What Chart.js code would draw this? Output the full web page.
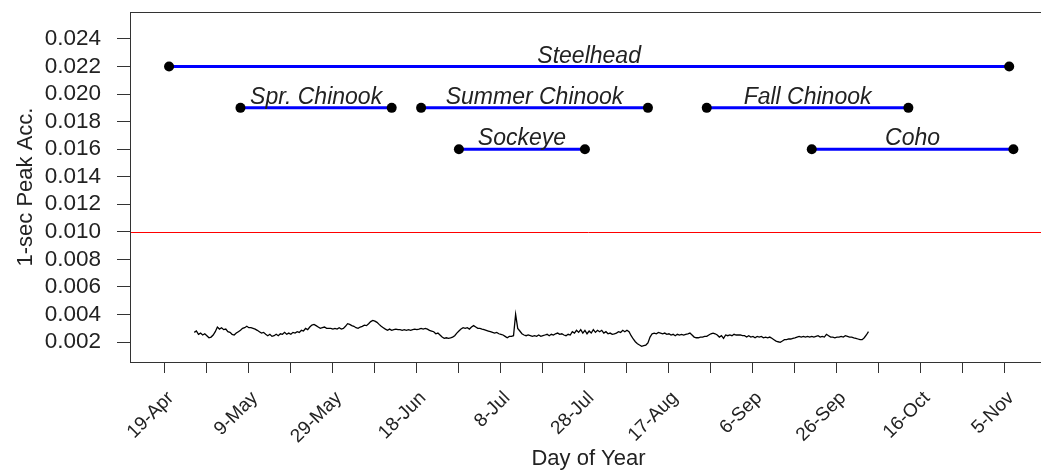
<!DOCTYPE html>
<html>
<head>
<meta charset="utf-8">
<script src="https://cdn.jsdelivr.net/npm/chart.js@4/dist/chart.umd.min.js"></script>
<style>
  html, body { margin: 0; padding: 0; background: #fff; overflow: hidden; }
  canvas { display: block; }
</style>
</head>
<body>
<canvas id="chart" width="1052" height="472"></canvas>
<script>
// Run timing windows (day of year) and the level each bar is drawn at
const runNames = ['Steelhead', 'Spr. Chinook', 'Summer Chinook', 'Fall Chinook', 'Sockeye', 'Coho'];
const runStart = [110, 127, 170, 238, 179, 263];
const runEnd   = [310, 163, 224, 286, 209, 311];
const runLevel = [0.022, 0.019, 0.019, 0.019, 0.016, 0.016];

// Reference level
const threshold = 0.010;

// 1-sec peak acceleration, one reading every half day from day 116
const seriesStartDay = 116;
const seriesStepDays = 0.5;
const peakAcc = [
  0.00270,0.00280,0.00256,0.00265,0.00251,0.00260,0.00246,0.00231,0.00236,0.00251,
  0.00275,0.00309,0.00294,0.00304,0.00290,0.00294,0.00275,0.00270,0.00256,0.00251,
  0.00265,0.00275,0.00285,0.00299,0.00304,0.00314,0.00304,0.00304,0.00299,0.00294,
  0.00285,0.00275,0.00265,0.00270,0.00256,0.00246,0.00256,0.00241,0.00246,0.00256,
  0.00246,0.00260,0.00256,0.00270,0.00256,0.00265,0.00256,0.00270,0.00265,0.00275,
  0.00270,0.00285,0.00280,0.00299,0.00290,0.00309,0.00323,0.00328,0.00319,0.00309,
  0.00299,0.00304,0.00309,0.00299,
  0.00299,0.00299,0.00294,0.00299,0.00294,0.00304,0.00294,0.00299,0.00314,0.00333,
  0.00328,0.00319,0.00314,0.00304,0.00299,0.00309,0.00314,0.00323,0.00319,0.00333,
  0.00348,0.00357,0.00352,0.00343,0.00328,0.00314,0.00304,0.00294,0.00285,0.00294,
  0.00285,0.00290,0.00294,0.00290,0.00290,0.00285,0.00290,0.00285,0.00290,0.00285,
  0.00290,0.00294,0.00290,0.00294,0.00299,0.00294,0.00299,0.00294,0.00285,0.00280,
  0.00275,0.00260,0.00265,0.00251,0.00236,0.00227,0.00231,0.00227,0.00231,0.00236,
  0.00246,0.00265,0.00280,0.00294,0.00304,
  0.00299,0.00304,0.00294,0.00309,0.00319,0.00309,0.00299,0.00299,0.00294,0.00290,
  0.00285,0.00280,0.00275,0.00270,0.00265,0.00270,0.00260,0.00256,0.00251,0.00241,
  0.00231,0.00241,0.00241,0.00246,0.00401,0.00299,0.00280,0.00260,0.00251,0.00246,
  0.00251,0.00246,0.00241,0.00246,0.00241,0.00251,0.00241,0.00246,0.00251,0.00256,
  0.00246,0.00256,0.00251,0.00260,0.00265,0.00256,0.00260,0.00251,0.00246,0.00256,
  0.00251,0.00275,0.00265,0.00285,0.00270,0.00290,0.00265,0.00285,0.00260,0.00280,
  0.00265,0.00290,0.00270,0.00285,0.00275,0.00285,
  0.00265,0.00275,0.00260,0.00265,0.00256,0.00260,0.00265,0.00275,0.00270,0.00285,
  0.00275,0.00285,0.00275,0.00246,0.00222,0.00202,0.00188,0.00178,0.00169,0.00174,
  0.00178,0.00193,0.00236,0.00260,0.00265,0.00260,0.00270,0.00265,0.00260,0.00265,
  0.00256,0.00260,0.00251,0.00256,0.00246,0.00256,0.00251,0.00256,0.00251,0.00256,
  0.00260,0.00265,0.00251,0.00236,0.00231,0.00231,0.00236,0.00236,0.00241,0.00241,
  0.00251,0.00260,0.00265,0.00260,0.00251,0.00236,0.00246,0.00227,0.00251,0.00246,
  0.00251,0.00246,0.00256,0.00251,0.00251,
  0.00251,0.00246,0.00246,0.00236,0.00246,0.00236,0.00241,0.00231,0.00241,0.00236,
  0.00241,0.00231,0.00236,0.00231,0.00236,0.00227,0.00217,0.00207,0.00202,0.00198,
  0.00207,0.00217,0.00217,0.00222,0.00222,0.00227,0.00231,0.00236,0.00241,0.00236,
  0.00241,0.00236,0.00241,0.00236,0.00241,0.00236,0.00241,0.00246,0.00236,0.00241,
  0.00236,0.00256,0.00246,0.00236,0.00236,0.00231,0.00236,0.00236,0.00241,0.00236,
  0.00246,0.00241,0.00236,0.00236,0.00231,0.00227,0.00222,0.00217,0.00217,0.00231,
  0.00251,0.00275
];

// Axis ticks: marks every 10 days, dates on every second mark
const xTickDays = [109,119,129,139,149,159,169,179,189,199,209,219,229,239,249,259,269,279,289,299,309];
const xLabelDays = [109,129,149,169,189,209,229,249,269,289,309];
const xLabelText = ['19-Apr','9-May','29-May','18-Jun','8-Jul','28-Jul','17-Aug','6-Sep','26-Sep','16-Oct','5-Nov'];
const yTicks = [0.002,0.004,0.006,0.008,0.010,0.012,0.014,0.016,0.018,0.020,0.022,0.024];

const FONT = '"Liberation Sans", Arial, Helvetica, sans-serif';
const INK = '#222222';
Chart.defaults.font.family = FONT;
Chart.defaults.color = INK;

const seriesPoints = peakAcc.map((v, i) => ({ x: seriesStartDay + i * seriesStepDays, y: v }));

const datasets = [{
  data: seriesPoints,
  borderColor: '#000000',
  borderWidth: 1.3,
  pointRadius: 0,
  tension: 0,
  order: 2
}];
runNames.forEach((name, i) => {
  datasets.push({
    label: name,
    data: [{ x: runStart[i], y: runLevel[i] }, { x: runEnd[i], y: runLevel[i] }],
    borderColor: '#0000ff',
    borderWidth: 3,
    pointRadius: 5,
    pointHoverRadius: 5,
    pointBackgroundColor: '#000000',
    pointBorderWidth: 0,
    order: 1
  });
});

// Plot frame, reference line and run names
const decorations = {
  id: 'decorations',
  beforeDatasetsDraw(chart) {
    const { ctx, chartArea: a, scales: { y } } = chart;
    const py = Math.round(y.getPixelForValue(threshold)) + 0.5;
    ctx.save();
    ctx.strokeStyle = '#ff0000';
    ctx.lineWidth = 1;
    ctx.beginPath();
    ctx.moveTo(a.left, py);
    ctx.lineTo(a.right, py);
    ctx.stroke();
    ctx.restore();
  },
  afterDatasetsDraw(chart) {
    const { ctx, chartArea: a, scales: { x, y } } = chart;
    ctx.save();
    ctx.font = 'italic 23px ' + FONT;
    ctx.fillStyle = INK;
    ctx.textAlign = 'center';
    ctx.textBaseline = 'alphabetic';
    runNames.forEach((name, i) => {
      const px = x.getPixelForValue((runStart[i] + runEnd[i]) / 2);
      const py = y.getPixelForValue(runLevel[i]);
      ctx.fillText(name, px, py - 4);
    });
    ctx.strokeStyle = '#333333';
    ctx.lineWidth = 1;
    ctx.strokeRect(Math.round(a.left) + 0.5, Math.round(a.top) + 0.5,
                   Math.round(a.right - a.left), Math.round(a.bottom - a.top));
    ctx.restore();
  }
};

new Chart(document.getElementById('chart'), {
  type: 'line',
  data: { datasets },
  plugins: [decorations],
  options: {
    responsive: false,
    animation: false,
    events: [],
    layout: { padding: { top: 12, right: 2, bottom: 0, left: 0 } },
    plugins: { legend: { display: false }, tooltip: { enabled: false } },
    scales: {
      x: {
        type: 'linear',
        min: 100.7,
        max: 319.0,
        afterBuildTicks: s => { s.ticks = xTickDays.map(v => ({ value: v })); },
        afterFit: s => { s.height = 110; s.paddingLeft = 0; s.paddingRight = 0; },
        grid: { drawOnChartArea: false, drawTicks: true, tickLength: 11, color: '#333333' },
        border: { display: false },
        ticks: {
          autoSkip: false,
          minRotation: 45,
          maxRotation: 45,
          padding: 14,
          labelOffset: 6,
          font: { size: 19 },
          callback: v => {
            const k = xLabelDays.indexOf(v);
            return k >= 0 ? xLabelText[k] : '';
          }
        },
        title: { display: true, text: 'Day of Year', font: { size: 22 }, padding: { top: 0, bottom: 0 } }
      },
      y: {
        min: 0.00055,
        max: 0.02596,
        afterBuildTicks: s => { s.ticks = yTicks.map(v => ({ value: v })); },
        afterFit: s => { s.width = 130; s.paddingTop = 0; s.paddingBottom = 0; },
        grid: { drawOnChartArea: false, drawTicks: true, tickLength: 13, color: '#333333' },
        border: { display: false },
        ticks: {
          padding: 16,
          font: { size: 22.5 },
          callback: v => v.toFixed(3)
        },
        title: { display: true, text: '1-sec Peak Acc.', font: { size: 22 }, padding: { top: 13, bottom: 0 } }
      }
    }
  }
});
</script>
</body>
</html>
